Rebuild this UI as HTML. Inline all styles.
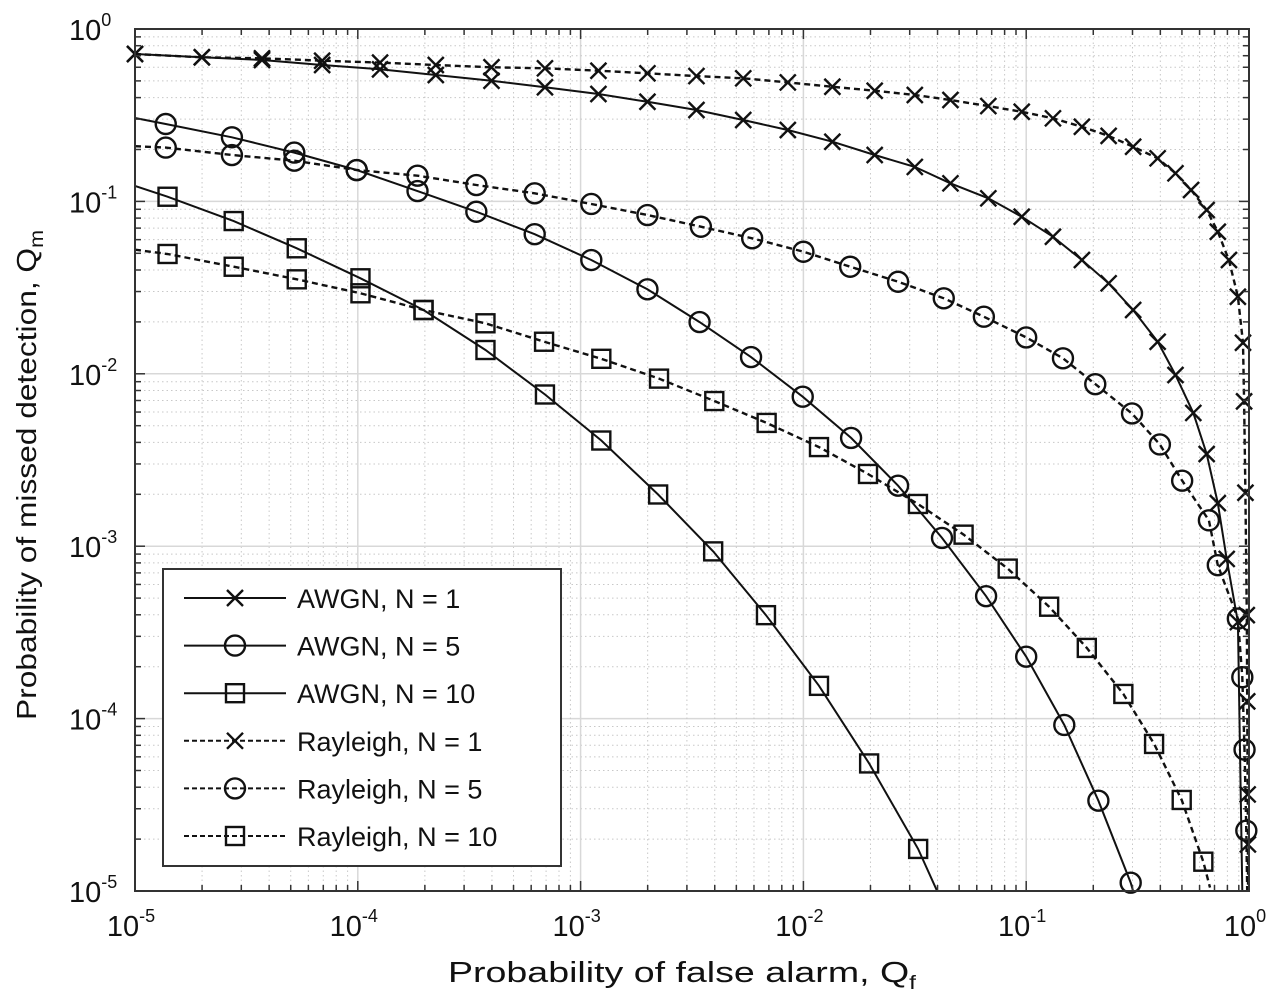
<!DOCTYPE html>
<html><head><meta charset="utf-8"><style>
html,body{margin:0;padding:0;background:#fff;}
svg{display:block;font-family:"Liberation Sans",Arial,sans-serif;}
</style></head><body>
<svg id="chart" width="1275" height="1006" viewBox="0 0 1275 1006">
<rect x="0" y="0" width="1275" height="1006" fill="#fff"/>
<g id="grid"></g>
<g id="series"></g>
<g id="frame"></g>
<g id="ticks"></g>
<text x="448" y="982" font-size="29" textLength="468" lengthAdjust="spacingAndGlyphs" fill="#111">Probability of false alarm, Q<tspan font-size="19" dy="7">f</tspan></text>
<text transform="translate(36,720) rotate(-90)" font-size="28" textLength="490" lengthAdjust="spacingAndGlyphs" fill="#111">Probability of missed detection, Q<tspan font-size="19" dy="7">m</tspan></text>
<g id="legend"></g>
</svg>
<script>
// ---- data (log10 values) ----
const xTickExps = [-5,-4,-3,-2,-1,0];
const yTickExps = [0,-1,-2,-3,-4,-5];
const seriesNames = ["AWGN, N = 1","AWGN, N = 5","AWGN, N = 10","Rayleigh, N = 1","Rayleigh, N = 5","Rayleigh, N = 10"];
const seriesMarkers = ["x","o","s","x","o","s"];
const seriesDashed = [false,false,false,true,true,true];

const awgn1LogQf = [-5,-4.70,-4.43,-4.16,-3.90,-3.65,-3.40,-3.16,-2.92,-2.70,-2.48,-2.27,-2.07,-1.87,-1.68,-1.50,-1.34,-1.17,-1.02,-0.88,-0.75,-0.63,-0.52,-0.41,-0.33,-0.25,-0.19,-0.14,-0.10,-0.05,-0.03];
const awgn1LogQm = [-0.145,-0.164,-0.18,-0.209,-0.234,-0.267,-0.30,-0.338,-0.377,-0.422,-0.47,-0.528,-0.586,-0.654,-0.731,-0.80,-0.895,-0.982,-1.089,-1.205,-1.34,-1.475,-1.63,-1.814,-2.007,-2.227,-2.465,-2.75,-3.074,-3.44,-5];
const awgn1Marked = [1,1,1,1,1,1,1,1,1,1,1,1,1,1,1,1,1,1,1,1,1,1,1,1,1,1,1,1,1,1,0];

const awgn5LogQf = [-5,-4.862,-4.565,-4.285,-4.005,-3.732,-3.468,-3.206,-2.952,-2.70,-2.466,-2.235,-2.003,-1.786,-1.575,-1.378,-1.18,-1.0,-0.829,-0.676,-0.531,-0.52];
const awgn5LogQm = [-0.516,-0.551,-0.628,-0.717,-0.818,-0.94,-1.06,-1.19,-1.34,-1.51,-1.70,-1.903,-2.133,-2.372,-2.649,-2.952,-3.29,-3.641,-4.037,-4.476,-4.952,-5];
const awgn5Marked = [0,1,1,1,1,1,1,1,1,1,1,1,1,1,1,1,1,1,1,1,1,0];

const awgn10LogQf = [-5,-4.854,-4.557,-4.274,-3.988,-3.705,-3.427,-3.16,-2.907,-2.652,-2.405,-2.168,-1.93,-1.705,-1.485,-1.40];
const awgn10LogQm = [-0.91,-0.973,-1.114,-1.272,-1.446,-1.63,-1.862,-2.12,-2.387,-2.70,-3.03,-3.40,-3.81,-4.26,-4.756,-5];
const awgn10Marked = [0,1,1,1,1,1,1,1,1,1,1,1,1,1,1,0];

const ray1LogQf = [-5,-4.70,-4.43,-4.16,-3.90,-3.65,-3.40,-3.16,-2.92,-2.70,-2.48,-2.27,-2.07,-1.87,-1.68,-1.50,-1.34,-1.17,-1.02,-0.88,-0.75,-0.63,-0.52,-0.41,-0.33,-0.26,-0.19,-0.14,-0.09,-0.05,-0.027,-0.022,-0.016,-0.01,-0.008,-0.006,-0.005,-0.004];
const ray1LogQm = [-0.145,-0.164,-0.17,-0.184,-0.195,-0.209,-0.222,-0.228,-0.242,-0.257,-0.273,-0.286,-0.31,-0.335,-0.358,-0.383,-0.412,-0.447,-0.48,-0.518,-0.567,-0.62,-0.683,-0.75,-0.837,-0.934,-1.05,-1.176,-1.34,-1.553,-1.82,-2.16,-2.69,-3.40,-3.90,-4.44,-4.73,-5];
const ray1Marked = [1,1,1,1,1,1,1,1,1,1,1,1,1,1,1,1,1,1,1,1,1,1,1,1,1,1,1,1,1,1,1,1,1,1,1,1,1,0];

const ray5LogQf = [-5,-4.862,-4.565,-4.285,-4.005,-3.732,-3.468,-3.206,-2.952,-2.70,-2.46,-2.23,-2.00,-1.79,-1.575,-1.37,-1.19,-1.00,-0.835,-0.69,-0.525,-0.40,-0.30,-0.18,-0.14,-0.05,-0.03,-0.02,-0.012,-0.008];
const ray5LogQm = [-0.68,-0.688,-0.731,-0.764,-0.818,-0.851,-0.905,-0.953,-1.015,-1.079,-1.147,-1.214,-1.292,-1.379,-1.466,-1.562,-1.669,-1.789,-1.91,-2.06,-2.23,-2.41,-2.62,-2.85,-3.11,-3.42,-3.76,-4.18,-4.65,-5];
const ray5Marked = [0,1,1,1,1,1,1,1,1,1,1,1,1,1,1,1,1,1,1,1,1,1,1,1,1,1,1,1,1,0];

const ray10LogQf = [-5,-4.854,-4.557,-4.274,-3.988,-3.705,-3.427,-3.164,-2.907,-2.648,-2.40,-2.165,-1.93,-1.71,-1.486,-1.281,-1.083,-0.897,-0.728,-0.564,-0.426,-0.302,-0.205,-0.175];
const ray10LogQm = [-1.28,-1.305,-1.379,-1.452,-1.533,-1.63,-1.707,-1.814,-1.913,-2.028,-2.158,-2.285,-2.425,-2.581,-2.755,-2.933,-3.13,-3.351,-3.59,-3.857,-4.147,-4.472,-4.83,-4.98];
const ray10Marked = [0,1,1,1,1,1,1,1,1,1,1,1,1,1,1,1,1,1,1,1,1,1,1,0];

const allQf = [awgn1LogQf,awgn5LogQf,awgn10LogQf,ray1LogQf,ray5LogQf,ray10LogQf];
const allQm = [awgn1LogQm,awgn5LogQm,awgn10LogQm,ray1LogQm,ray5LogQm,ray10LogQm];
const allMarked = [awgn1Marked,awgn5Marked,awgn10Marked,ray1Marked,ray5Marked,ray10Marked];

// ---- axes ----
const PL=135, PR=1249, PT=29, PB=891;
function xScale(e){ return PL + (e - (-5)) / 5 * (PR-PL); }
function yScale(e){ return PT + (0 - e) / 5 * (PB-PT); }
const NS="http://www.w3.org/2000/svg";
function mk(tag, parent){ const el=document.createElementNS(NS,tag); parent.appendChild(el); return el; }

const grid=document.getElementById('grid');
for(let d=-5; d<0; d++){
  for(let m=1; m<=9; m++){
    const e=d+Math.log10(m);
    const x=xScale(e);
    const l=mk('line',grid);
    
    
    l.setAttribute('x1',x);l.setAttribute('x2',x);l.setAttribute('y1',PT);l.setAttribute('y2',PB);
    if(m===1){l.setAttribute('stroke','#d8d8d8');l.setAttribute('stroke-width','1.5');}
    else{l.setAttribute('stroke','#c8c8c8');l.setAttribute('stroke-width','1');l.setAttribute('stroke-dasharray','1.5,3');}
    const y=yScale(e);
    const yl=mk('line',grid);
    
    
    yl.setAttribute('x1',PL);yl.setAttribute('x2',PR);yl.setAttribute('y1',y);yl.setAttribute('y2',y);
    if(m===1){yl.setAttribute('stroke','#d8d8d8');yl.setAttribute('stroke-width','1.5');}
    else{yl.setAttribute('stroke','#c8c8c8');yl.setAttribute('stroke-width','1');yl.setAttribute('stroke-dasharray','1.5,3');}
  }
}
const frame=document.getElementById('frame');
const box=mk('rect',frame);


box.setAttribute('x',PL);box.setAttribute('y',PT);box.setAttribute('width',PR-PL);box.setAttribute('height',PB-PT);
box.setAttribute('fill','none');box.setAttribute('stroke','#333');box.setAttribute('stroke-width','2');
for(let d=-5; d<=0; d++){
  for(let m=1; m<=9; m++){
    if(d===0 && m>1) break;
    const e=d+Math.log10(m); const len=m===1?10:6;
    const x=xScale(e), y=yScale(e);
    [[x,PB,x,PB-len],[x,PT,x,PT+len],[PL,y,PL+len,y],[PR,y,PR-len,y]].forEach(c=>{
      const t=mk('line',frame);
      
      
      t.setAttribute('x1',c[0]);t.setAttribute('y1',c[1]);t.setAttribute('x2',c[2]);t.setAttribute('y2',c[3]);
      t.setAttribute('stroke','#333');t.setAttribute('stroke-width','1.5');
    });
  }
}
const ticks=document.getElementById('ticks');
xTickExps.forEach(e=>{
  const t=mk('text',ticks);
  
  
  t.setAttribute('x',xScale(e)-4);t.setAttribute('y',936);t.setAttribute('font-size','29');
  t.setAttribute('text-anchor','middle');t.setAttribute('fill','#111');
  t.innerHTML='10<tspan font-size="18" dy="-14">'+e+'</tspan>';
});
yTickExps.forEach(e=>{
  const t=mk('text',ticks);
  
  
  t.setAttribute('x',69);t.setAttribute('y',yScale(e)+11);t.setAttribute('font-size','29');
  t.setAttribute('fill','#111');
  t.innerHTML='10<tspan font-size="18" dy="-14">'+e+'</tspan>';
});

function drawMarker(g,type,x,y){
  let el;
  if(type==='x'){
    el=mk('path',g);
    el.setAttribute('d',`M${x-8},${y-8}L${x+8},${y+8}M${x-8},${y+8}L${x+8},${y-8}`);
  } else if(type==='o'){
    el=mk('circle',g);
    el.setAttribute('cx',x);el.setAttribute('cy',y);el.setAttribute('r',10);
  } else {
    el=mk('rect',g);
    el.setAttribute('x',x-9);el.setAttribute('y',y-9);el.setAttribute('width',18);el.setAttribute('height',18);
  }
  
  
  el.setAttribute('fill','none');el.setAttribute('stroke','#111');el.setAttribute('stroke-width','2.4');
}
const sg=document.getElementById('series');
allQf.forEach((qf,i)=>{
  const g=mk('g',sg);
  
  
  const pts=qf.map((e,j)=>xScale(e).toFixed(1)+','+yScale(allQm[i][j]).toFixed(1)).join(' ');
  const pl=mk('polyline',g);
  
  
  pl.setAttribute('points',pts);pl.setAttribute('fill','none');pl.setAttribute('stroke','#111');
  pl.setAttribute('stroke-width',seriesDashed[i]?'2.4':'2');
  if(seriesDashed[i]) pl.setAttribute('stroke-dasharray','6,4');
  qf.forEach((e,j)=>{ if(allMarked[i][j]) drawMarker(g,seriesMarkers[i],xScale(e),yScale(allQm[i][j])); });
});

const lg=document.getElementById('legend');
const lb=mk('rect',lg);


lb.setAttribute('x',163);lb.setAttribute('y',569);lb.setAttribute('width',398);lb.setAttribute('height',297);
lb.setAttribute('fill','#fff');lb.setAttribute('stroke','#333');lb.setAttribute('stroke-width','2');
seriesNames.forEach((n,i)=>{
  const y=598+i*47.6;
  const g=mk('g',lg);
  
  
  const l=mk('line',g);
  
  
  l.setAttribute('x1',184);l.setAttribute('x2',286);l.setAttribute('y1',y);l.setAttribute('y2',y);
  l.setAttribute('stroke','#111');l.setAttribute('stroke-width','2');
  if(seriesDashed[i]) l.setAttribute('stroke-dasharray','5,3');
  const g2=mk('g',g);
  
  
  drawMarker(g2,seriesMarkers[i],235,y);
  const t=mk('text',g);
  
  
  t.setAttribute('x',297);t.setAttribute('y',y+10);t.setAttribute('font-size','27');t.setAttribute('fill','#111');
  t.textContent=n;
});
</script>
</body></html>
